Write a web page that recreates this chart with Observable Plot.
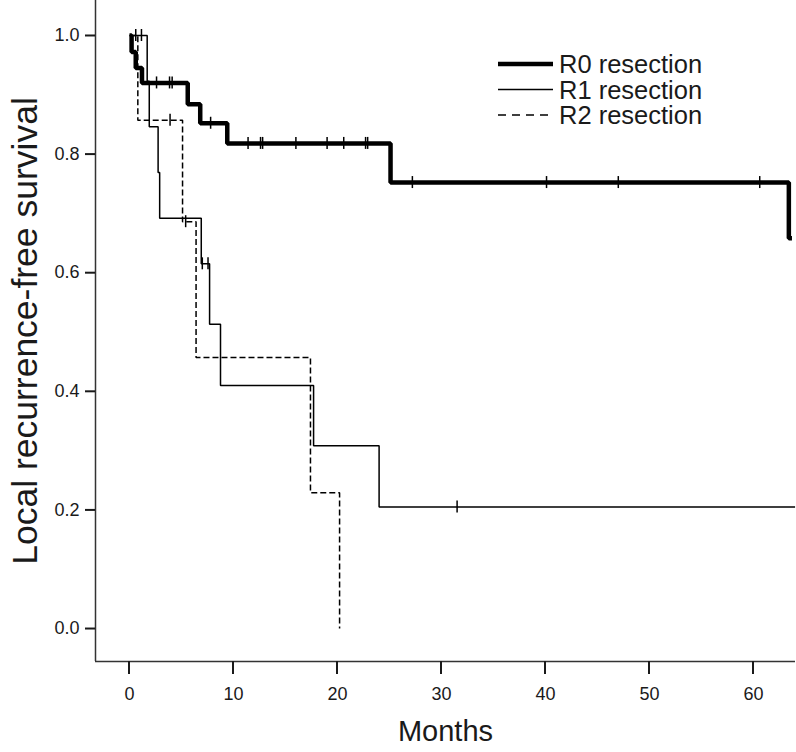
<!DOCTYPE html>
<html><head><meta charset="utf-8">
<script src="https://cdn.jsdelivr.net/npm/d3@7"></script>
<script src="https://cdn.jsdelivr.net/npm/@observablehq/plot@0.6"></script>
<style>
body{margin:0;background:#fff;}
#chart{width:796px;height:752px;}
</style>
</head><body><div id="chart"></div>
<script>
// ---- data ----
const groups = ["R0 resection", "R1 resection", "R2 resection"];

const r0Time = [0, 0.2, 0.6, 1.2, 5.6, 6.8, 9.4, 25.1, 63.4, 63.7];
const r0Surv = [1, 0.972, 0.945, 0.920, 0.884, 0.852, 0.818, 0.752, 0.658, 0.658];
const r0Censor = [2.6, 3.85, 4.1, 7.8, 11.4, 12.6, 12.8, 16.0, 19.0, 20.6, 22.7, 22.9, 27.2, 40.1, 47.0, 60.6];

const r1Time = [0, 1.7, 1.9, 2.75, 2.9, 6.9, 7.7, 8.75, 17.7, 24.0, 64.0];
const r1Surv = [1, 0.923, 0.846, 0.769, 0.692, 0.615, 0.513, 0.410, 0.308, 0.205, 0.205];
const r1Censor = [0.6, 1.15, 7.0, 7.55, 31.5];

const r2Time = [0, 0.8, 5.1, 6.4, 17.4, 20.2];
const r2Surv = [1, 0.857, 0.686, 0.457, 0.229, 0];
const r2Censor = [3.9, 5.4];

const xTicks = [0, 10, 20, 30, 40, 50, 60];
const yTicks = [0, 0.2, 0.4, 0.6, 0.8, 1.0];
const xLabel = "Months";
const yLabel = "Local recurrence-free survival";

// ---- build tables ----
function stepAt(times, surv, t) {
  let s = surv[0];
  for (let i = 0; i < times.length; i++) if (times[i] <= t) s = surv[i];
  return s;
}
const series = [
  {name: groups[0], time: r0Time, surv: r0Surv, cens: r0Censor},
  {name: groups[1], time: r1Time, surv: r1Surv, cens: r1Censor},
  {name: groups[2], time: r2Time, surv: r2Surv, cens: r2Censor}
];
const lineData = series.map(s => s.time.map((t, i) => ({group: s.name, t, s: s.surv[i]})));
const censData = series.map(s => s.cens.map(t => ({group: s.name, t, s: stepAt(s.time, s.surv, t)})));

const styles = [
  {strokeWidth: 4.5, dash: null},
  {strokeWidth: 1.5, dash: null},
  {strokeWidth: 1.5, dash: "6,3"}
];

const xDomain = [-3.27, 64.04];
const yDomain = [-0.0556, 1.059];
const ink = "#1a1a1a";

const marks = [];
series.forEach((s, k) => {
  marks.push(Plot.line(lineData[k], {
    x: "t", y: "s", curve: "step-after", stroke: "#000",
    strokeWidth: styles[k].strokeWidth, strokeDasharray: styles[k].dash,
    strokeLinejoin: "miter", strokeLinecap: "butt"
  }));
  marks.push(Plot.ruleX(censData[k], {
    x: "t", y1: "s", y2: "s", insetTop: -6, insetBottom: -6,
    stroke: "#000", strokeWidth: 1.5
  }));
});

const chart = Plot.plot({
  width: 796,
  height: 752,
  marginLeft: 95,
  marginRight: 1,
  marginTop: 0,
  marginBottom: 91,
  style: {fontFamily: "'Liberation Sans', Arial, sans-serif", color: ink, background: "#fff", overflow: "visible"},
  x: {domain: xDomain, axis: null},
  y: {domain: yDomain, axis: null},
  marks: [
    Plot.ruleX([xDomain[0]], {stroke: "#333", strokeWidth: 1.5}),
    Plot.ruleY([yDomain[0]], {stroke: "#333", strokeWidth: 1.5}),
    // y-axis ticks
    Plot.ruleY(yTicks, {y: d => d, x1: () => xDomain[0], x2: () => xDomain[0], insetLeft: -10, insetRight: 0, stroke: ink, strokeWidth: 2}),
    // tick labels
    Plot.text(xTicks, {x: d => d, frameAnchor: "bottom", dy: 33, text: d => String(d), fontSize: 18, fill: ink, textAnchor: "middle", lineAnchor: "middle"}),
    Plot.text(yTicks, {y: d => d, frameAnchor: "left", dx: -16, text: d => d.toFixed(1), fontSize: 18, fill: ink, textAnchor: "end", lineAnchor: "middle"}),
    // axis titles
    Plot.text([xLabel], {frameAnchor: "bottom", dy: 79, fontSize: 29, fill: ink, textAnchor: "middle"}),
    Plot.text([yLabel], {frameAnchor: "left", dx: -70, rotate: -90, fontSize: 35.5, fill: ink, textAnchor: "middle"}),
    ...marks
  ]
});
document.getElementById("chart").appendChild(chart);

const svg = d3.select(chart);

// ---- x-axis ticks (positioned through the plot's own scales), drawn on top ----
const xs = chart.scale("x"), ys = chart.scale("y");
const yAxisPx = ys.apply(yDomain[0]);
const tg = svg.append("g").attr("stroke", ink).attr("stroke-width", 2);
xTicks.forEach(t => {
  const px = xs.apply(t);
  tg.append("line").attr("x1", px).attr("x2", px).attr("y1", yAxisPx).attr("y2", yAxisPx + 13);
});

// ---- legend (inside plot area, top right) ----
const leg = svg.append("g").attr("font-family", "'Liberation Sans', Arial, sans-serif").attr("font-size", 25.5).attr("text-anchor", "start");
const legRows = [64, 89.5, 115];
groups.forEach((g, k) => {
  leg.append("line").attr("x1", 498).attr("x2", 553).attr("y1", legRows[k]).attr("y2", legRows[k])
    .attr("stroke", "#000").attr("stroke-width", styles[k].strokeWidth)
    .attr("stroke-dasharray", k === 2 ? "8,6" : null);
  leg.append("text").attr("x", 559).attr("y", legRows[k] + 9).attr("text-anchor", "start").attr("fill", ink).text(g);
});
</script>
</body></html>
